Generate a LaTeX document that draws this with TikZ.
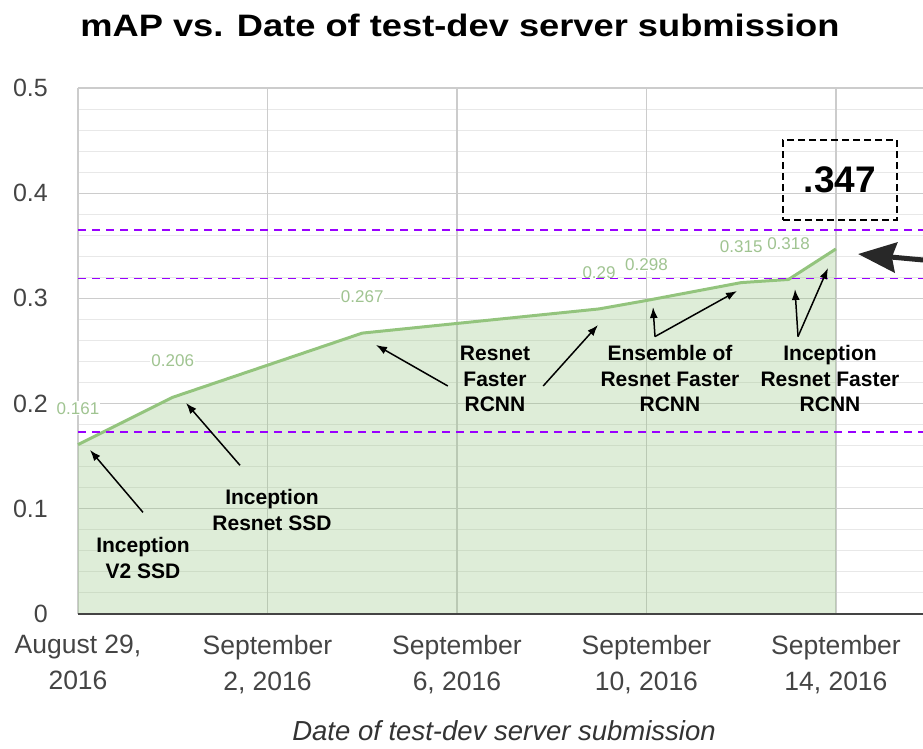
\documentclass[tikz,border=0pt]{standalone}
\usepackage{fontspec}
\setmainfont{Liberation Sans}
\usetikzlibrary{arrows.meta}

\definecolor{gridmajor}{RGB}{204,204,204}
\definecolor{gridminor}{RGB}{232,232,232}
\definecolor{mapline}{RGB}{147,196,125}
\definecolor{maplabel}{RGB}{160,196,145}
\definecolor{bandline}{RGB}{153,0,255}
\definecolor{ticktext}{RGB}{68,68,68}
\definecolor{bigarrow}{RGB}{40,40,40}

\tikzset{
  majorgrid/.style={draw=gridmajor, line width=1.2pt},
  minorgrid/.style={draw=gridminor, line width=1pt},
  band/.style={draw=bandline, line width=1.8pt, dash pattern=on 8pt off 6pt},
  mapcurve/.style={draw=mapline, line width=3pt, line join=round},
  mapfill/.style={fill=mapline, fill opacity=0.3},
  datalabel/.style={fill=white, inner sep=1pt, text=maplabel, font=\fontsize{17}{17}\selectfont},
  ytick/.style={anchor=east, inner sep=0pt, text=ticktext, font=\fontsize{25}{25}\selectfont},
  xtick/.style={anchor=north, align=center, inner sep=0pt, text=ticktext, font=\fontsize{26.5}{36}\selectfont},
  model/.style={align=center, inner sep=0pt, font=\fontsize{21}{25.5}\selectfont\bfseries},
  pointer/.style={-{Latex[length=11pt,width=8pt]}, line width=1.5pt},
  bigpointer/.style={-{Stealth[length=38pt,width=30pt,inset=4pt]}, line width=5pt, draw=bigarrow},
  valuebox/.style={draw, dash pattern=on 7pt off 4pt, line width=1.5pt, minimum width=114pt, minimum height=80pt, font=\fontsize{37}{37}\selectfont\bfseries},
}

\begin{document}
\begin{tikzpicture}[x=47.37pt, y=1052pt]
\useasboundingbox (-78pt,-135pt) rectangle (845pt,614pt);

% grid
\foreach \v in {0.02,0.04,...,0.49}
	\draw[minorgrid] (0,\v) -- (17.84,\v);
\foreach \v in {0.1,0.2,0.3,0.4,0.5}
	\draw[majorgrid] (0,\v) -- (17.84,\v);
\foreach \d in {0,4,...,16}
	\draw[majorgrid] (\d,0) -- (\d,0.5);

% data
\foreach \d/\v in {0/0.161,2/0.206,6/0.267,11/0.29,12/0.298,14/0.315,15/0.318,16/0.347}
	\coordinate (P\d) at (\d,\v);

\fill[mapfill] (0,0) -- (P0) -- (P2) -- (P6) -- (P11) -- (P12) -- (P14) -- (P15) -- (P16) -- (16,0) -- cycle;
\draw[mapcurve] (P0) -- (P2) -- (P6) -- (P11) -- (P12) -- (P14) -- (P15) -- (P16);
\draw[line width=2pt, draw=ticktext] (0,0) -- (17.84,0);

\foreach \d/\v in {0/0.161,2/0.206,6/0.267,11/0.29,12/0.298,14/0.315,15/0.318}
	\node at (\d,{\v+0.0345})[datalabel](L\d){\v};

% bands
\foreach \v in {0.365,0.319,0.173}
	\draw[band] (0,\v) -- (17.84,\v);

% axes
\foreach \v in {0,0.1,0.2,0.3,0.4,0.5}
	\node at (-0.633,\v)[ytick](Y\v){\v};

\node at (0,-0.02)[xtick](X0){August 29,\\2016};
\foreach \d/\n in {4/2,8/6,12/10,16/14}
	\node at (\d,-0.02)[xtick](X\d){September\\\n, 2016};

\node at (8.064,0.5485)[anchor=base, inner sep=0pt, font=\fontsize{31}{31}\selectfont\bfseries](title){\scalebox{1.17}[1]{mAP vs. Date of test-dev server submission}};
\node at (8.993,-0.1198)[anchor=base, inner sep=0pt, text={rgb,255:red,51;green,51;blue,51}, font=\fontsize{27.5}{27.5}\selectfont\itshape](xlabel){Date of test-dev server submission};

% models
\node at (1.372,0.0532)[model](V2){Inception\\V2 SSD};
\node at (4.095,0.0989)[model](IRS){Inception\\Resnet SSD};
\node at (8.803,0.2234)[model](RFR){Resnet\\Faster\\RCNN};
\node at (12.497,0.2234)[model](ERF){Ensemble of\\Resnet Faster\\RCNN};
\node at (15.875,0.2234)[model](IRF){Inception\\Resnet Faster\\RCNN};

\coordinate (hV2) at (0.253,0.1559);
\coordinate (hIRS) at (2.280,0.2006);
\coordinate (hRFR) at (6.291,0.2557);
\coordinate (hRFR2) at (10.977,0.2747);
\coordinate (hERF) at (12.139,0.2918);
\coordinate (hERF2) at (13.912,0.3070);
\coordinate (hIRF) at (15.136,0.3089);
\coordinate (hIRF2) at (15.833,0.3289);

\draw[pointer] ([yshift=25pt]V2.north) -- (hV2);
\draw[pointer] ([xshift=-32pt,yshift=24pt]IRS.north) -- (hIRS);
\draw[pointer] ([xshift=-12pt,yshift=-7pt]RFR.west) -- (hRFR);
\draw[pointer] ([xshift=13pt,yshift=-7pt]RFR.east) -- (hRFR2);
\draw[pointer] ([xshift=-15pt,yshift=9pt]ERF.north) -- (hERF);
\draw[pointer] ([xshift=-15pt,yshift=9pt]ERF.north) -- (hERF2);
\draw[pointer] ([xshift=-32pt,yshift=9pt]IRF.north) -- (hIRF);
\draw[pointer] ([xshift=-32pt,yshift=9pt]IRF.north) -- (hIRF2);

% best result
\node at (16.086,0.4125)[valuebox](best){.347};
\coordinate (tip) at (16.467,0.3422);
\coordinate (edge) at (17.84,0.3365);
\draw[bigpointer] (edge) -- (tip);

\end{tikzpicture}
\end{document}
